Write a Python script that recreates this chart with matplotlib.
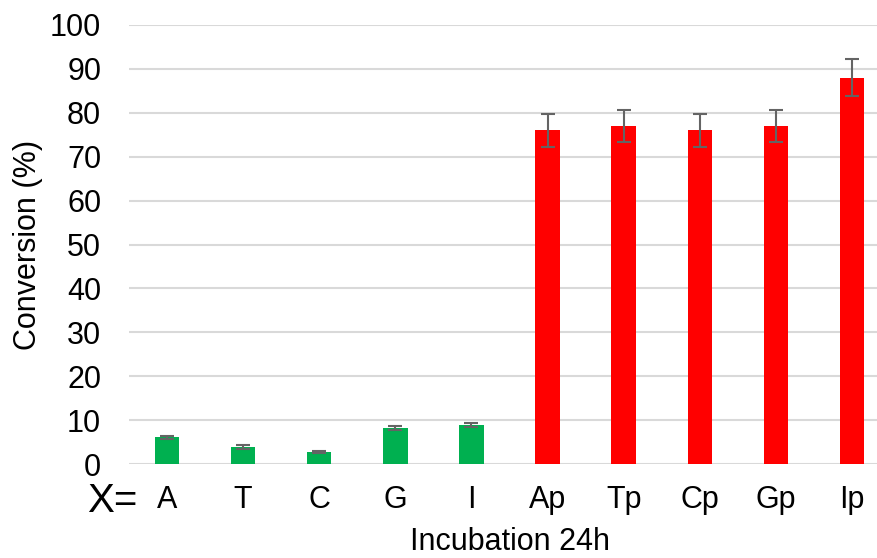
import matplotlib
matplotlib.use("Agg")
import matplotlib.pyplot as plt
import numpy as np

plt.rcParams['font.family'] = ['Liberation Sans', 'DejaVu Sans']

labels = ['A', 'T', 'C', 'G', 'I', 'Ap', 'Tp', 'Cp', 'Gp', 'Ip']
conversion = [6.1, 3.9, 2.7, 8.2, 8.9, 76.0, 77.0, 76.0, 77.0, 88.0]
errors = [0.35, 0.4, 0.2, 0.5, 0.5, 3.8, 3.7, 3.8, 3.7, 4.2]
colors = ['#00b050'] * 5 + ['#ff0000'] * 5

fig = plt.figure(figsize=(8.77, 5.58), dpi=100)
# axes run a little past the right edge, as in the original
ax = fig.add_axes([129 / 877, 94 / 558, 761 / 877, 439 / 558])

x = np.arange(len(labels))
ax.bar(x, conversion, width=0.32, color=colors, zorder=3)
ax.errorbar(x, conversion, yerr=errors, fmt='none', ecolor='#646464',
            elinewidth=1.5, capsize=5, capthick=1.5, zorder=4)

ax.set_xlim(-0.5, len(labels) - 0.5)
ax.set_ylim(0, 100)
ax.set_yticks(np.arange(0, 101, 10))
ax.set_xticks(x)
ax.set_xticklabels(labels)
ax.tick_params(axis='both', length=0, labelsize=22)
ax.tick_params(axis='y', pad=20)
ax.tick_params(axis='x', pad=15)
ax.grid(axis='y', color='#d9d9d9', linewidth=1.5, zorder=0)
for s in ax.spines.values():
    s.set_visible(False)

ax.set_ylabel('Conversion (%)', fontsize=22, labelpad=5)
# sits right on the bottom edge, as in the original
ax.set_xlabel('Incubation 24h', fontsize=22, labelpad=8.5)
fig.text(137 / 877, 1 - 512 / 558, 'X=', fontsize=29, ha='right', va='baseline')

fig.savefig('out.png', dpi=100)
